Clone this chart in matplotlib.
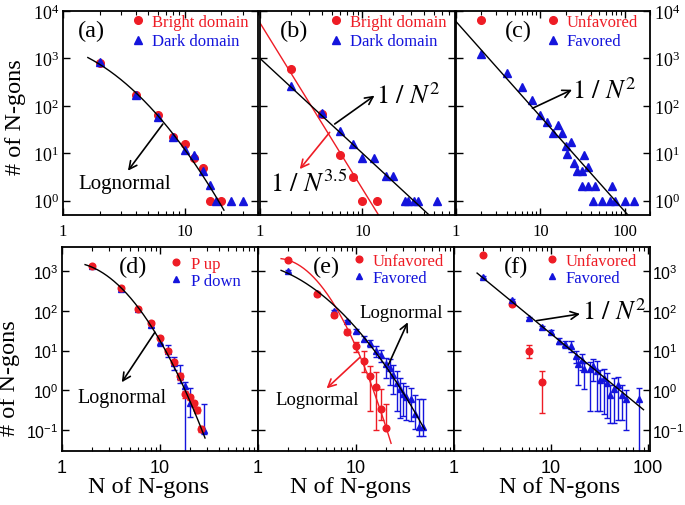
import numpy as np
import matplotlib
matplotlib.use('Agg')
import matplotlib.pyplot as plt
from matplotlib.lines import Line2D
from matplotlib.ticker import NullFormatter, NullLocator, FixedLocator

plt.rcParams['mathtext.fontset'] = 'stix'
plt.rcParams['font.family'] = ['Liberation Serif', 'DejaVu Serif']

RED = '#ee1c25'
BLUE = '#1414dc'

# ---------------- data ----------------
# (a)
a_bright_n = [2, 4, 6, 8, 10, 12, 14, 16, 20]
a_bright_y = [800, 166, 63, 22, 16, 8, 5, 1, 1]
a_dark_n = [2, 4, 6, 8, 10, 12, 14, 16, 18, 24, 30]
a_dark_y = [850, 170, 59, 22, 11.5, 9, 4.2, 2.1, 1, 1, 1]
a_fit = [3.234, -0.336, -0.26]          # log10 y = c0 + c1 lnN + c2 lnN^2
a_fit_range = [1.6, 21]

# (b)
b_bright_n = [2, 4, 6, 8, 10, 14]
b_bright_y = [600, 66, 9.3, 3.2, 1, 1]
b_dark_n = [2, 4, 6, 8, 10, 13, 17, 20, 26, 28, 32, 35, 53]
b_dark_y = [265, 71, 29, 16, 8, 8, 3.4, 3.4, 1, 1, 1, 1, 1]
b_red_pow = [5600, 3.5]
b_black_pow = [1000, 2.0]

# (c)
c_unfav_n = [2]
c_unfav_y = [6500]
c_fav_n = [2, 4, 6, 8, 10, 12, 14, 16, 18, 20, 23, 21, 25, 27, 31, 33, 37,
           31, 37, 45, 70, 42, 54, 67, 77, 100, 130]
c_fav_y = [1270, 500, 250, 135, 63, 46, 27, 39, 27, 14.5, 17, 9.8, 6.3, 4.2,
           4.2, 9, 5.2, 2, 2, 2, 2, 1, 1, 1, 1, 1, 1]
c_pow = [6000, 2.0]

# (d)
d_up_n = [2, 4, 6, 8, 10, 12, 14, 16, 18, 20, 22, 24, 26]
d_up_y = [1350, 380, 112, 49, 21, 10, 5.1, 2.3, 0.8, 0.68, 0.47, 0.33, 0.11]
d_up_err = [80, 30, 15, 6, 2.5, 1.2, 0.8, 0.5, 0.15, 0.1, 0.08, 0.06, 0.02]
d_down_n = [2, 4, 6, 8, 10, 12, 14, 16, 18, 20, 28]
d_down_y = [1300, 360, 108, 43, 16, 10, 5, 2.3, 1.3, 0.47, 0.1]
d_down_lo = [50, 20, 8, 4, 3, 3, 1.7, 0.8, 1.3, 0.25, 0.02]
d_down_hi = [50, 20, 8, 4, 3, 3.5, 1.7, 2.0, 0.3, 0.7, 0.35]
d_fit = [3.205, 0.152, -0.435]
d_fit_range = [1.72, 28.8]

# (e)
e_unfav_n = [2, 4, 6, 8, 10, 12, 14, 16, 18, 20]
e_unfav_y = [1850, 265, 77, 30, 13.3, 5.6, 2.3, 1.2, 0.35, 0.115]
e_unfav_lo = [60, 20, 8, 4, 4, 2.7, 2.0, 1.1, 0.17, 0.005]
e_unfav_hi = [60, 20, 8, 4, 3, 4.4, 1.9, 1.7, 0.75, 0.35]
e_fav_n = [2, 4, 6, 8, 10, 12, 14, 16, 18, 20, 22, 24, 26, 28, 30, 32, 36, 40, 44, 48]
e_fav_y = [1000, 285, 100, 56, 31, 20, 15.5, 10, 7.8, 4.6, 3.6, 2.4, 1.5, 1.1,
           0.83, 0.68, 0.62, 0.26, 0.12, 0.12]
e_fav_lo = [40, 15, 6, 4, 3, 3, 3, 3, 2.5, 2.5, 2.2, 1.6, 1.2, 0.9, 0.6, 0.5,
            0.45, 0.15, 0.05, 0.05]
e_fav_hi = [40, 15, 6, 4, 3, 3, 3, 3, 2.5, 2, 2.5, 2, 1.5, 1.0, 0.7, 0.6, 0.5,
            0.5, 0.5, 0.5]
e_red_fit = [3.18, 0.59, -0.65]
e_red_range = [1.72, 22.8]
e_black_fit = [3.18, -0.182, -0.225]
e_black_range = [1.72, 50]

# (f)
f_unfav_n = [2, 4, 6, 8]
f_unfav_y = [2500, 145, 10, 1.6]
f_unfav_lo = [0, 15, 3.5, 1.33]
f_unfav_hi = [0, 15, 3.5, 1.4]
f_fav_n = [2, 4, 6, 8, 10, 12, 14, 16, 18, 19, 21, 22, 25, 27, 30, 32, 35, 38,
           41, 45, 49, 54, 59, 80]
f_fav_y = [710, 186, 65, 38, 29, 17.7, 14.6, 13.2, 7.5, 4.6, 5.9, 3.5, 3.5,
           4.2, 3.0, 1.8, 2.0, 1.5, 0.75, 1.1, 1.33, 0.78, 0.6, 0.6]
f_fav_lo = [30, 12, 5, 4, 3, 3, 3, 4, 2.5, 3.2, 2.6, 2.4, 3.2, 2.5, 2.7, 1.5,
            1.75, 1.3, 0.6, 0.95, 1.15, 0.6, 0.5, 0.6]
f_fav_hi = [30, 12, 5, 4, 3, 3, 3, 4, 2.5, 2.3, 2.5, 1.5, 1.8, 2.0, 2.5, 1.4,
            1.5, 1.2, 0.6, 0.9, 0.8, 0.6, 0.4, 0.55]
f_pow = [2650, 2.0]
f_pow_range = [1.73, 90]

top_yticks = [1, 10, 100, 1000, 10000]
bot_yticks = [0.1, 1, 10, 100, 1000]


# ---------------- helpers ----------------
def lognormal(n, c):
    u = np.log(n)
    return 10 ** (c[0] + c[1] * u + c[2] * u ** 2)


def power(n, p):
    return p[0] / np.asarray(n) ** p[1]


W, H = 685, 506
fig = plt.figure(figsize=(6.85, 5.06), dpi=100)


def make_ax(x0, x1, y0, y1):
    return fig.add_axes([x0 / W, 1 - y1 / H, (x1 - x0) / W, (y1 - y0) / H])


def style(ax, xlim, ylim, xticks, yticks, side, serif, xfs, yfs, ypad=3):
    ax.set_xscale('log')
    ax.set_yscale('log')
    ax.set_xlim(*xlim)
    ax.set_ylim(*ylim)
    fam = 'Liberation Serif' if serif else 'Liberation Sans'
    ax.set_xticks(xticks)
    ax.set_xticklabels([str(t) for t in xticks], fontfamily=fam, fontsize=xfs)
    ax.xaxis.set_minor_formatter(NullFormatter())
    ax.yaxis.set_major_locator(FixedLocator(yticks))
    ax.yaxis.set_minor_locator(NullLocator())
    ax.yaxis.set_minor_formatter(NullFormatter())
    ax.set_yticklabels([r'$\mathdefault{10^{%d}}$' % int(round(np.log10(t)))
                        for t in yticks], fontfamily=fam, fontsize=yfs)
    ax.tick_params(which='both', direction='in', top=True, right=True,
                   left=True, bottom=True)
    ax.tick_params(which='major', length=5, width=1)
    ax.tick_params(which='minor', length=2.6, width=0.8)
    ax.tick_params(axis='x', pad=6)
    ax.tick_params(axis='y', pad=ypad)
    ax.tick_params(axis='y', labelleft=(side == 'left'),
                   labelright=(side == 'right'))
    for s in ax.spines.values():
        s.set_linewidth(1.3)


def legend(ax, labels, markers, colors, ms, anchor, spacing):
    handles = [Line2D([], [], ls='none', marker=m, color=c, ms=ms)
               for m, c in zip(markers, colors)]
    ax.legend(handles, labels, loc='upper left', bbox_to_anchor=anchor,
              frameon=False, handlelength=0.8, handletextpad=0.45,
              borderpad=0, borderaxespad=0, labelspacing=spacing,
              fontsize=12, labelcolor=colors)


def arrow(ax, tail, head, color='k'):
    ax.annotate('', xy=head, xytext=tail, xycoords='axes fraction',
                textcoords='axes fraction',
                arrowprops=dict(arrowstyle='->', color=color, lw=1.2,
                                mutation_scale=14, shrinkA=0, shrinkB=0))


def tag(ax, s, x, y):
    ax.text(x, y, s, transform=ax.transAxes, ha='center', va='center',
            fontsize=17.5)


TOP_YLIM = (0.5, 1e4)
BOT_YLIM = (0.03, 4000)

# ---------------- (a) ----------------
ax = make_ax(63, 258, 12, 216)
ax.plot(a_bright_n, a_bright_y, 'o', color=RED, ms=5.5)
ax.plot(a_dark_n, a_dark_y, '^', color=BLUE, ms=6.2)
n = np.geomspace(*a_fit_range, 200)
ax.plot(n, lognormal(n, a_fit), color='k', lw=1)
style(ax, (1, 40), TOP_YLIM, [1, 10], top_yticks, 'left', True, 12, 13)
legend(ax, ['Bright domain', 'Dark domain'], ['o', '^'], [RED, BLUE], 5.5,
       (0.35, 0.985), 0.2)
tag(ax, '(a)', 0.145, 0.905)
arrow(ax, (0.512, 0.446), (0.333, 0.217))
ax.text(0.316, 0.152, 'Lognormal', transform=ax.transAxes, ha='center',
        va='center', fontsize=15)

# ---------------- (b) ----------------
ax = make_ax(260, 455, 12, 216)
ax.plot(b_bright_n, b_bright_y, 'o', color=RED, ms=5.5)
ax.plot(b_dark_n, b_dark_y, '^', color=BLUE, ms=6.2)
n = np.geomspace(1, 80, 100)
ax.plot(n, power(n, b_red_pow), color=RED, lw=1)
ax.plot(n, power(n, b_black_pow), color='k', lw=1)
style(ax, (1, 80), TOP_YLIM, [1, 10], top_yticks, 'none', True, 12, 13)
legend(ax, ['Bright domain', 'Dark domain'], ['o', '^'], [RED, BLUE], 5.5,
       (0.357, 0.985), 0.2)
tag(ax, '(b)', 0.173, 0.905)
arrow(ax, (0.383, 0.446), (0.587, 0.585))
ax.text(0.595, 0.588, r'$1\ /\ N^{2}$', transform=ax.transAxes, ha='left',
        va='center', fontsize=19)
arrow(ax, (0.357, 0.405), (0.204, 0.225), RED)
ax.text(0.05, 0.155, r'$1\ /\ N^{3.5}$', transform=ax.transAxes, ha='left',
        va='center', fontsize=19)

# ---------------- (c) ----------------
ax = make_ax(456, 650, 12, 216)
ax.plot(c_unfav_n, c_unfav_y, 'o', color=RED, ms=5.5)
ax.plot(c_fav_n, c_fav_y, '^', color=BLUE, ms=6.2)
n = np.geomspace(1, 200, 100)
ax.plot(n, power(n, c_pow), color='k', lw=1)
style(ax, (1, 200), TOP_YLIM, [1, 10, 100], top_yticks, 'right', True, 12, 13)
legend(ax, ['Unfavored', 'Favored'], ['o', '^'], [RED, BLUE], 5.5,
       (0.464, 0.985), 0.2)
tag(ax, '(c)', 0.319, 0.905)
arrow(ax, (0.394, 0.523), (0.598, 0.614))
ax.text(0.6, 0.612, r'$1\ /\ N^{2}$', transform=ax.transAxes, ha='left',
        va='center', fontsize=19)

# ---------------- (d) ----------------
ax = make_ax(62, 258, 248, 452)
ax.errorbar(d_down_n, d_down_y, yerr=[d_down_lo, d_down_hi], fmt='^',
            color=BLUE, ms=4.5, capsize=2.5, elinewidth=1, capthick=1)
ax.errorbar(d_up_n, d_up_y, yerr=d_up_err, fmt='o', color=RED, ms=4.8,
            capsize=2.5, elinewidth=1, capthick=1)
n = np.geomspace(*d_fit_range, 200)
ax.plot(n, lognormal(n, d_fit), color='k', lw=1, zorder=5)
style(ax, (1, 100), BOT_YLIM, [1, 10], bot_yticks, 'left', False, 13, 11.5,
      ypad=2.5)
legend(ax, ['P up', 'P down'], ['o', '^'], [RED, BLUE], 4.8,
       (0.55, 0.955), 0.05)
tag(ax, '(d)', 0.365, 0.907)
arrow(ax, (0.474, 0.582), (0.305, 0.337))
ax.text(0.306, 0.26, 'Lognormal', transform=ax.transAxes, ha='center',
        va='center', fontsize=14.5)
ax.text(0.44, -0.172, 'N of N-gons', transform=ax.transAxes, ha='center',
        va='center', fontsize=17.5)

# ---------------- (e) ----------------
ax = make_ax(258, 454, 248, 452)
ax.errorbar(e_fav_n, e_fav_y, yerr=[e_fav_lo, e_fav_hi], fmt='^',
            color=BLUE, ms=4.5, capsize=2.5, elinewidth=1, capthick=1)
ax.errorbar(e_unfav_n, e_unfav_y, yerr=[e_unfav_lo, e_unfav_hi], fmt='o',
            color=RED, ms=4.8, capsize=2.5, elinewidth=1, capthick=1)
n = np.geomspace(*e_red_range, 200)
ax.plot(n, lognormal(n, e_red_fit), color=RED, lw=1, zorder=5)
n = np.geomspace(*e_black_range, 200)
ax.plot(n, lognormal(n, e_black_fit), color='k', lw=1, zorder=5)
style(ax, (1, 100), BOT_YLIM, [1, 10], bot_yticks, 'none', False, 13, 11.5)
legend(ax, ['Unfavored', 'Favored'], ['o', '^'], [RED, BLUE], 4.8,
       (0.479, 0.97), 0.05)
tag(ax, '(e)', 0.347, 0.907)
arrow(ax, (0.665, 0.422), (0.764, 0.631))
ax.text(0.73, 0.68, 'Lognormal', transform=ax.transAxes, ha='center',
        va='center', fontsize=13.5)
arrow(ax, (0.52, 0.459), (0.35, 0.307), RED)
ax.text(0.301, 0.25, 'Lognormal', transform=ax.transAxes, ha='center',
        va='center', fontsize=13.5)
ax.text(0.473, -0.172, 'N of N-gons', transform=ax.transAxes, ha='center',
        va='center', fontsize=17.5)

# ---------------- (f) ----------------
ax = make_ax(454, 650, 248, 452)
ax.errorbar(f_unfav_n, f_unfav_y, yerr=[f_unfav_lo, f_unfav_hi], fmt='o',
            color=RED, ms=4.8, capsize=2.5, elinewidth=1, capthick=1)
ax.errorbar(f_fav_n, f_fav_y, yerr=[f_fav_lo, f_fav_hi], fmt='^',
            color=BLUE, ms=4.5, capsize=2.5, elinewidth=1, capthick=1)
n = np.geomspace(*f_pow_range, 100)
ax.plot(n, power(n, f_pow), color='k', lw=1, zorder=5)
style(ax, (1, 105), BOT_YLIM, [1, 10, 100], bot_yticks, 'right', False, 13,
      11.5, ypad=1.5)
legend(ax, ['Unfavored', 'Favored'], ['o', '^'], [RED, BLUE], 4.8,
       (0.464, 0.972), 0.05)
tag(ax, '(f)', 0.319, 0.907)
arrow(ax, (0.422, 0.639), (0.643, 0.672))
ax.text(0.653, 0.688, r'$1\ /\ N^{2}$', transform=ax.transAxes, ha='left',
        va='center', fontsize=19)
ax.text(0.54, -0.172, 'N of N-gons', transform=ax.transAxes, ha='center',
        va='center', fontsize=17.5)

# y labels
fig.text(16 / W, 1 - 117.5 / H, '# of N-gons', rotation=90, ha='center',
         va='center', fontsize=17.5)
fig.text(10 / W, 1 - 378 / H, '# of N-gons', rotation=90, ha='center',
         va='center', fontsize=17.5)

fig.savefig('out.png', dpi=100)
